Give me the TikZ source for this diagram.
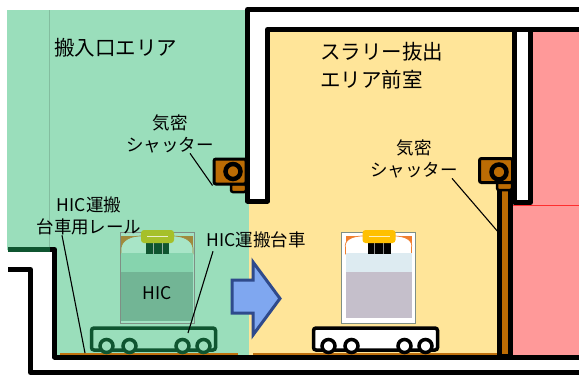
\documentclass[tikz,border=0pt]{standalone}
\usepackage{fontspec}
\setmainfont{Noto Sans CJK JP}
\usetikzlibrary{calc}

\definecolor{areagreen}{HTML}{9ADEBB}
\definecolor{areayellow}{HTML}{FFE599}
\definecolor{areapink}{HTML}{FF9999}
\definecolor{darkgreen}{HTML}{0F5530}
\definecolor{shutterbrown}{HTML}{BC6C04}
\definecolor{railbrown}{HTML}{C0700E}
\definecolor{arrowfill}{HTML}{7FA7F0}
\definecolor{arrowedge}{HTML}{2F4A8C}
\definecolor{hicedge}{HTML}{7F8F85}
% cask in the loading area
\definecolor{gframe}{HTML}{A4E2C4}
\definecolor{gcorner}{HTML}{A08A3C}
\definecolor{gdome}{HTML}{A8E5C7}
\definecolor{gband}{HTML}{86D4AE}
\definecolor{glower}{HTML}{72B595}
\definecolor{glid}{HTML}{A6C02A}
% cask in the front room
\definecolor{wcorner}{HTML}{F07D2E}
\definecolor{wband}{HTML}{DDEBF1}
\definecolor{wlower}{HTML}{C5BFCB}
\definecolor{wlid}{HTML}{FFC000}

% one HIC cask: #1 centre x, #2 frame, #3 corners, #4 dome, #5 band,
% #6 lower part, #7 lid, #8 lid bars, #9 inset of the body
\newcommand{\hiccask}[9]{%
  \draw[fill=#2, draw=hicedge, line width=0.8pt] (#1-37,232) rectangle (#1+37,323);
  \fill[#3] (#1-37+#9,236) rectangle (#1+37-#9,254);
  \filldraw[fill=#4, draw=#3, line width=0.7pt]
    (#1-37+#9,254) -- (#1-37+#9,248) .. controls (#1-35,240) and (#1-26,236) .. (#1-16,236)
    -- (#1+16,236) .. controls (#1+26,236) and (#1+35,240) .. (#1+37-#9,248) -- (#1+37-#9,254) -- cycle;
  \fill[#5] (#1-37+#9,253) rectangle (#1+37-#9,272);
  \fill[#6] (#1-37+#9,272) rectangle (#1+37-#9,322-#9);
  \fill[#8] (#1-11,243) rectangle (#1+12,254);
  \draw[white!55!#8, line width=0.8pt] (#1-4,243) -- (#1-4,254) (#1+5,243) -- (#1+5,254);
  \fill[#7, rounded corners=3pt] (#1-16,230) rectangle (#1+17,243);
  \draw[white!75!#7, line width=1pt] (#1-10,236.5) -- (#1+11,236.5);
}

% one cart: #1 centre x, #2 line colour, #3 fill
\newcommand{\hiccart}[3]{%
  \draw[line width=3.5pt, rounded corners=2.5pt, draw=#2, fill=#3] (#1-62,328) rectangle (#1+62,350);
  \foreach \dx in {-47,-24,29,50}
    \draw[line width=3.5pt, draw=#2, fill=#3] (#1+\dx,346) circle[radius=6.5pt];
}

\tikzset{
  wall/.style={line width=5pt, line join=round},
  leader/.style={line width=1.1pt},
  tag/.style={inner sep=0pt, align=center, font=\fontsize{17.5}{22}\selectfont},
  areaname/.style={inner sep=0pt, align=left, font=\fontsize{20.5}{28}\selectfont},
  shutterbox/.style={draw=black, fill=shutterbrown, line width=3pt, rounded corners=2pt},
  rail/.style={railbrown, line width=2pt},
}

\begin{document}
\begin{tikzpicture}[x=1pt,y=-1pt]
  \useasboundingbox (0,0) rectangle (579,376);

  % areas
  \fill[areagreen] (7,10) -- (249,10) -- (249,355) -- (54,355) -- (54,250) -- (7,250) -- cycle;
  \draw[areagreen!85!black, line width=0.8pt] (49,10) -- (49,248);
  \fill[areayellow] (249,30) rectangle (512,355);
  \fill[areapink] (531,30) rectangle (579,205);
  \fill[areapink] (512,205) rectangle (579,355);
  \draw[red!70!areapink, line width=0.8pt] (513,205) -- (579,205);

  % walls
  \filldraw[fill=white, wall] (579,9.5) -- (247.5,9.5) -- (247.5,201) -- (267.5,201)
    -- (267.5,29.5) -- (579,29.5);
  \filldraw[fill=white, wall] (514.5,29.5) rectangle (530.5,202.5);

  % floor and pit
  \draw[darkgreen, line width=5pt] (8,249.5) -- (52,249.5);
  \draw[wall] (50,249.5) -- (54.5,249.5) -- (54.5,357) -- (579,357);
  \draw[wall] (8,269.5) -- (30.5,269.5) -- (30.5,372.5) -- (579,372.5);
  \draw[rail] (60,353.5) -- (238,353.5);
  \draw[rail] (253,353.5) -- (498,353.5);
  \coordinate (railpt) at (85,353);

  % shutters
  \draw[shutterbox, line width=2.5pt] (231,184) rectangle (246,192);
  \node[shutterbox, minimum width=32pt, minimum height=25pt, inner sep=0pt] (sh1) at (230,171.5) {};
  \draw[black, fill=shutterbrown, line width=4.5pt] (sh1.center) ++(3,0) circle[radius=7.5pt];
  \draw[shutterbox, line width=5pt, rounded corners=0pt] (499.5,185) rectangle (510.5,356);
  \draw[shutterbox, line width=2.5pt] (497,182) rectangle (512,190);
  \node[shutterbox, minimum width=33pt, minimum height=24pt, inner sep=0pt] (sh2) at (496,170.5) {};
  \draw[black, fill=shutterbrown, line width=4.5pt] (sh2.center) ++(3,1.5) circle[radius=7.5pt];
  \coordinate (pole) at (499,233);

  % carts and casks
  \hiccask{157}{gframe}{gcorner}{gdome}{gband}{glower}{glid}{darkgreen}{1}
  \hiccart{153.5}{darkgreen}{areagreen}
  \hiccask{378.5}{white}{wcorner}{white}{wband}{wlower}{wlid}{black}{4}
  \hiccart{375.5}{black}{white}
  \coordinate (cartpt) at (188,333);

  % transfer arrow
  \filldraw[fill=arrowfill, draw=arrowedge, line width=3pt, line join=miter]
    (232,280) -- (253,280) -- (253,262) -- (280,298.5) -- (253,335) -- (253,313) -- (232,313) -- cycle;

  % labels
  \node[areaname, anchor=west] (area1) at (54,48) {搬入口エリア};
  \node[areaname, anchor=west] (area2) at (320,66) {スラリー抜出\\エリア前室};
  \node[tag] (sh1txt) at (170,134) {気密\\シャッター};
  \node[tag] (sh2txt) at (414,159) {気密\\シャッター};
  \node[tag] (railtxt) at (89,216) {HIC運搬\\台車用レール};
  \node[tag] (carttxt) at (256,240) {HIC運搬台車};
  \node[tag] (hictxt) at (157,293) {HIC};

  \draw[leader] ([xshift=20pt]sh1txt.south) -- (sh1.south west);
  \draw[leader] ([xshift=38pt]sh2txt.south) -- (pole);
  \draw[leader] ([xshift=-27pt]railtxt.south) -- (railpt);
  \draw[leader] ([xshift=-43pt,yshift=-3pt]carttxt.south) -- (cartpt);
\end{tikzpicture}
\end{document}
